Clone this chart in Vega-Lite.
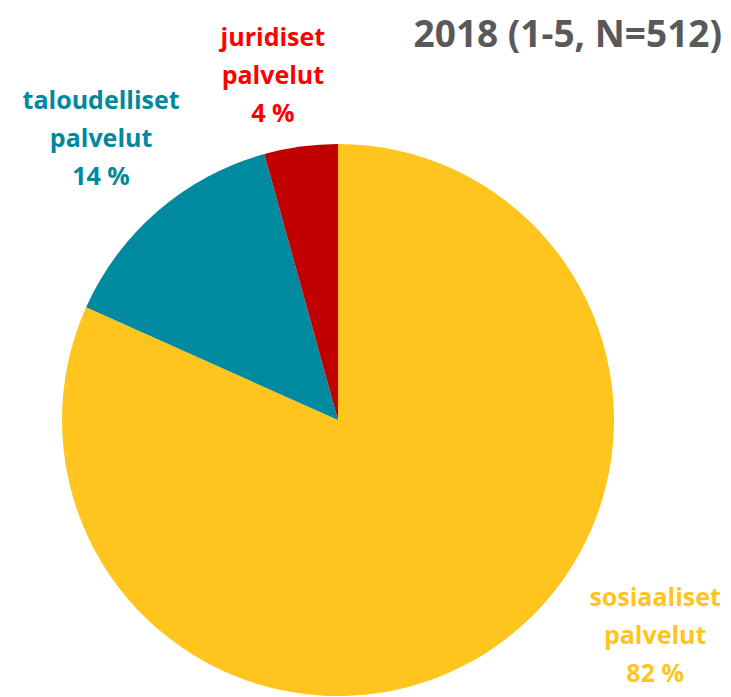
{
  "$schema": "https://vega.github.io/schema/vega-lite/v6.json",
  "autosize": "none",
  "width": 552,
  "height": 552,
  "padding": {"left": 62, "top": 144, "right": 117, "bottom": 1},
  "background": "white",
  "title": {
    "text": "2018 (1-5, N=512)",
    "anchor": "end",
    "frame": "group",
    "dx": 108,
    "offset": -51,
    "font": "Open Sans",
    "fontSize": 37,
    "fontWeight": "bold",
    "color": "#595959"
  },
  "data": {
    "values": [
      {"category": "sosiaaliset palvelut", "value": 81.7, "order": 1, "label": "sosiaaliset\npalvelut\n82 %"},
      {"category": "taloudelliset palvelut", "value": 14.0, "order": 2, "label": "taloudelliset\npalvelut\n14 %"},
      {"category": "juridiset palvelut", "value": 4.3, "order": 3, "label": "juridiset\npalvelut\n4 %"}
    ]
  },
  "encoding": {
    "theta": {"field": "value", "type": "quantitative", "stack": true},
    "order": {"field": "order", "type": "quantitative", "sort": "ascending"}
  },
  "layer": [
    {
      "mark": {"type": "arc", "outerRadius": 276},
      "encoding": {
        "color": {
          "field": "category",
          "type": "nominal",
          "scale": {
            "domain": ["sosiaaliset palvelut", "taloudelliset palvelut", "juridiset palvelut"],
            "range": ["#FFC51E", "#008AA0", "#C00000"]
          },
          "legend": null
        }
      }
    },
    {
      "mark": {"type": "text", "radius": 365, "dx": 1, "dy": -42, "font": "Open Sans", "fontSize": 25, "fontWeight": "bold", "lineBreak": "\n", "lineHeight": 38, "align": "center", "baseline": "middle", "color": "#00889E"},
      "encoding": {"text": {"condition": {"test": "datum.order == 2", "field": "label"}, "value": ""}}
    },
    {
      "mark": {"type": "text", "radius": 350, "dx": -18, "dy": -35, "font": "Open Sans", "fontSize": 25, "fontWeight": "bold", "lineBreak": "\n", "lineHeight": 38, "align": "center", "baseline": "middle", "color": "#FF0000"},
      "encoding": {"text": {"condition": {"test": "datum.order == 3", "field": "label"}, "value": ""}}
    },
    {
      "mark": {"type": "text", "radius": 300, "dx": 154, "dy": -74, "font": "Open Sans", "fontSize": 25, "fontWeight": "bold", "lineBreak": "\n", "lineHeight": 38, "align": "center", "baseline": "middle", "color": "#FFC51E"},
      "encoding": {"text": {"condition": {"test": "datum.order == 1", "field": "label"}, "value": ""}}
    }
  ]
}
